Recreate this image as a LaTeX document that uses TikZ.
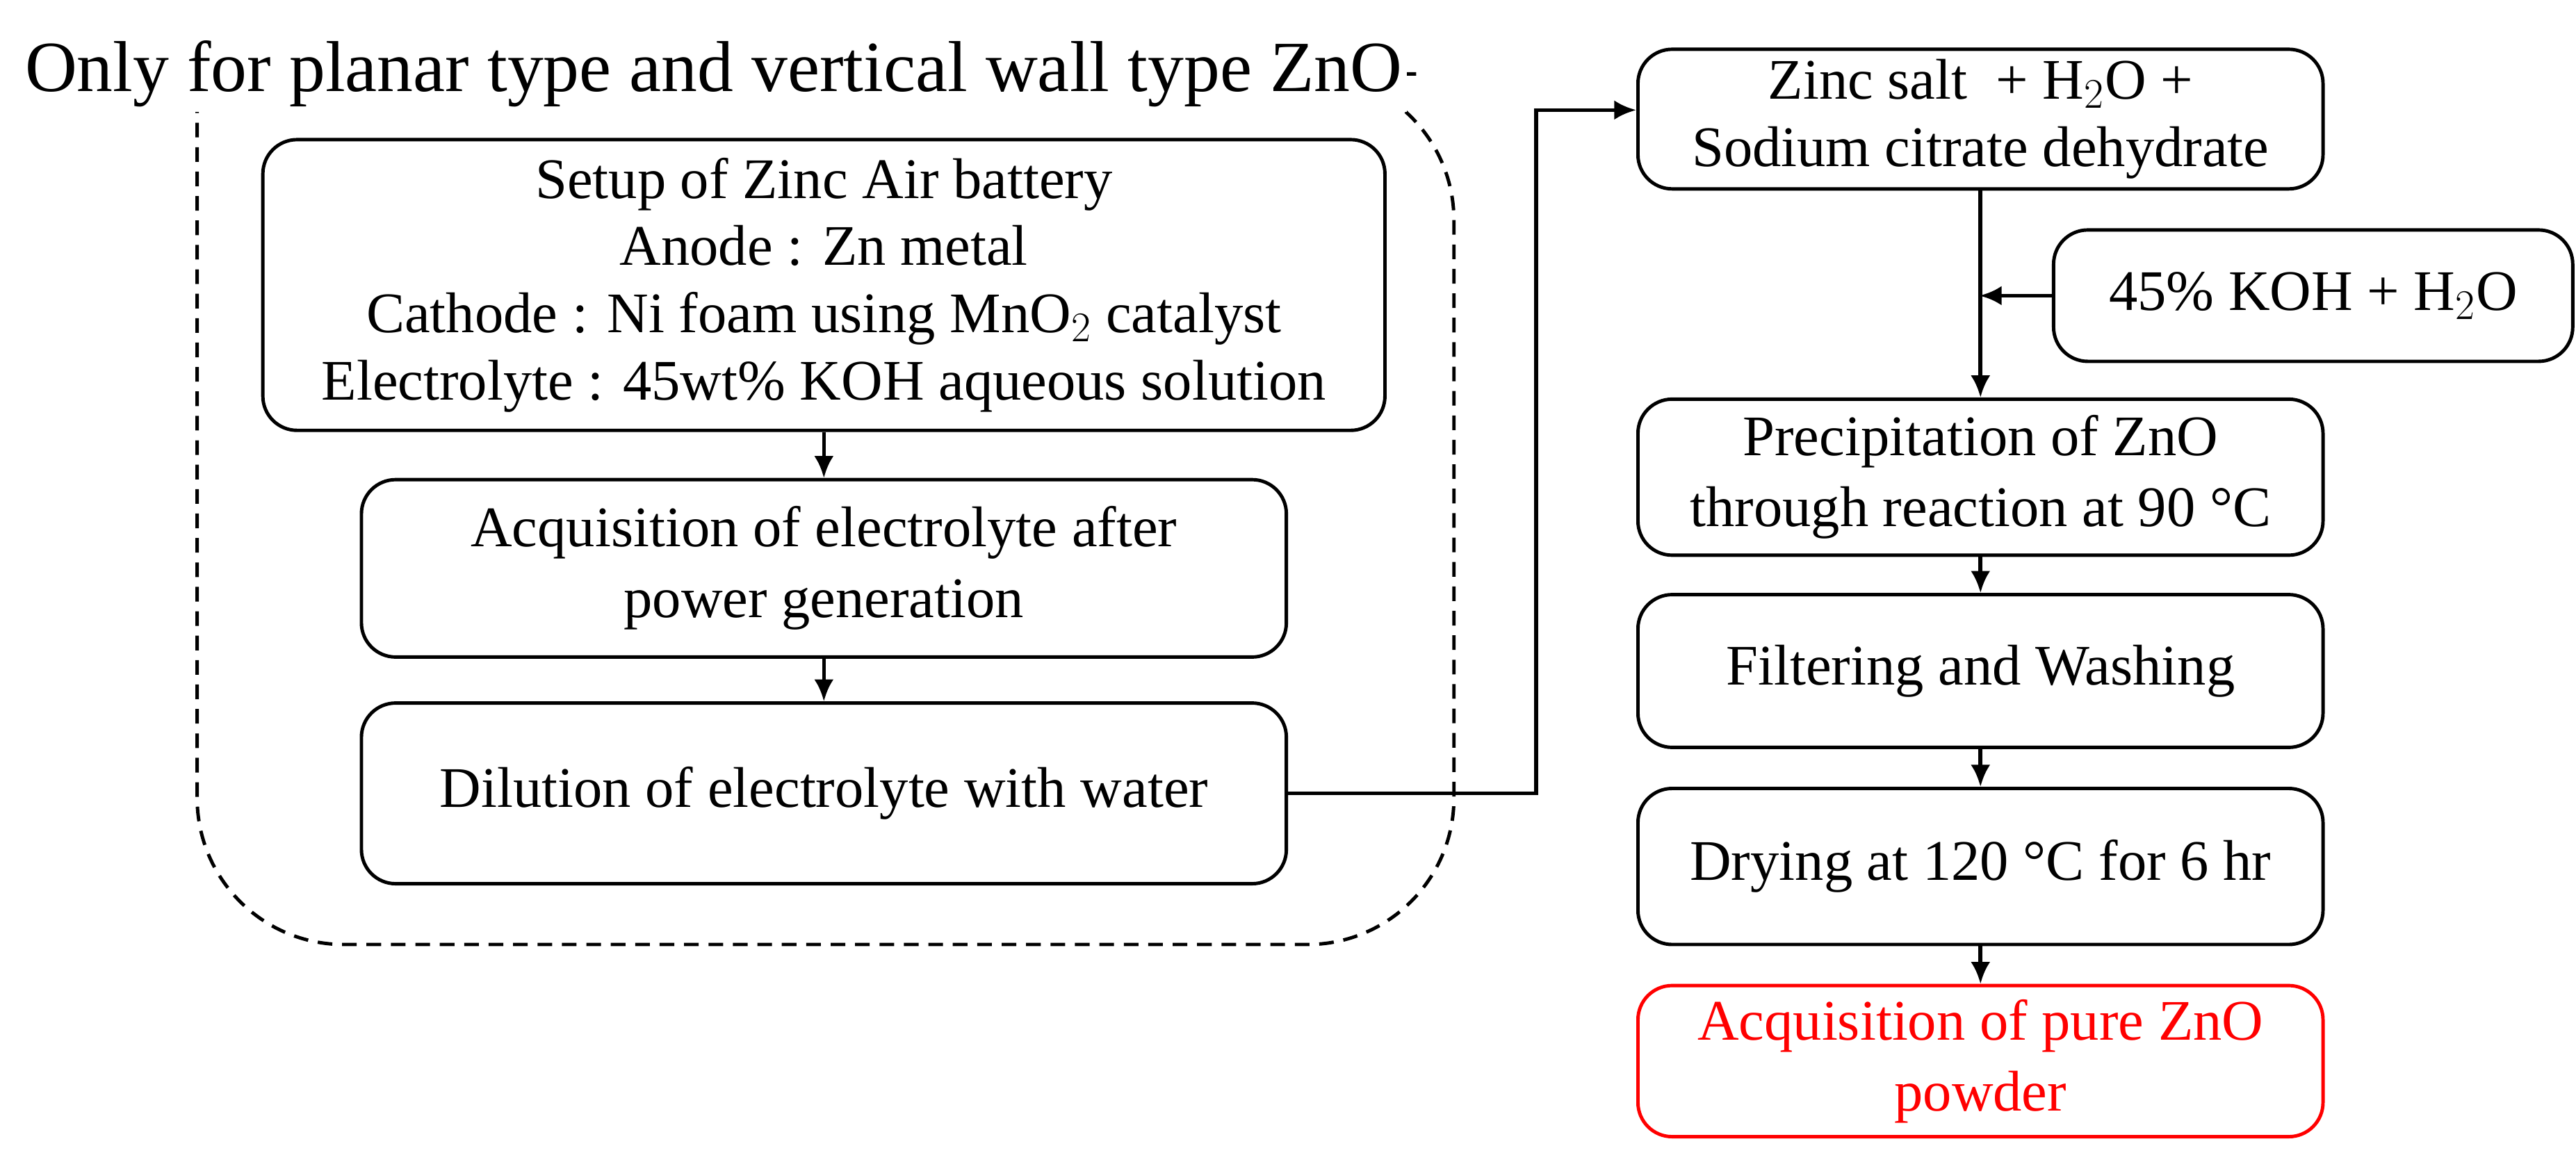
\documentclass[tikz,border=0pt]{standalone}
\usepackage{fontspec}
\setmainfont{Liberation Serif}
\usetikzlibrary{arrows.meta,calc}
\begin{document}
\begin{tikzpicture}[x=0.02363cm,y=-0.02363cm,
  box/.style={draw,line width=1.4pt,rounded corners=14pt,align=center,inner sep=0pt,font=\fontsize{23.5}{29}\selectfont},
  arr/.style={line width=1.6pt,-{Latex[length=9pt,width=8pt]}}]
\useasboundingbox (0,0) rectangle (1568,707);
\draw[dash pattern=on 6pt off 4pt,line width=1.4pt,rounded corners=60pt] (120,45) -- (120,575) -- (885,575) -- (885,45) -- (862,45);
\node[font=\fontsize{29.5}{33}\selectfont,anchor=west,fill=white,inner sep=2pt] (title) at (12,45) {Only for planar type and vertical wall type ZnO};
\node[box,minimum width=683*0.02363cm,minimum height=177*0.02363cm,font=\fontsize{23.5}{27.5}\selectfont] (b1) at (501.5,173.5) {Setup of Zinc Air battery\\Anode : Zn metal\\Cathode : Ni foam using MnO$_2$ catalyst\\Electrolyte : 45wt\% KOH aqueous solution};
\node[box,minimum width=563*0.02363cm,minimum height=108*0.02363cm] (b2) at (501.5,346) {Acquisition of electrolyte after\\power generation};
\node[box,minimum width=563*0.02363cm,minimum height=110*0.02363cm] (b3) at (501.5,483) {Dilution of electrolyte with water};
\node[box,minimum width=417*0.02363cm,minimum height=85*0.02363cm,font=\fontsize{23.5}{27.5}\selectfont] (r1) at (1205.5,72.5) {Zinc salt \ + H$_2$O +\\Sodium citrate dehydrate};
\node[box,minimum width=316*0.02363cm,minimum height=80*0.02363cm] (k) at (1408,180) {45\% KOH + H$_2$O};
\node[box,minimum width=417*0.02363cm,minimum height=95*0.02363cm] (r2) at (1205.5,290.5) {Precipitation of ZnO\\through reaction at 90 °C};
\node[box,minimum width=417*0.02363cm,minimum height=93*0.02363cm] (r3) at (1205.5,408.5) {Filtering and Washing};
\node[box,minimum width=417*0.02363cm,minimum height=95*0.02363cm] (r4) at (1205.5,527.5) {Drying at 120 °C for 6 hr};
\node[box,draw=red,text=red,minimum width=417*0.02363cm,minimum height=92*0.02363cm] (r5) at (1205.5,646) {Acquisition of pure ZnO\\powder};
\coordinate (j) at (1205,180);
\draw[arr] (b1) -- (b2);
\draw[arr] (b2) -- (b3);
\draw[arr] (b3.east) -- (935,483) -- (935,67) -- (r1.west|-935,67);
\draw[arr] (r1) -- (r2);
\draw[arr] (k) -- (j);
\draw[arr] (r2) -- (r3);
\draw[arr] (r3) -- (r4);
\draw[arr] (r4) -- (r5);
\end{tikzpicture}
\end{document}
